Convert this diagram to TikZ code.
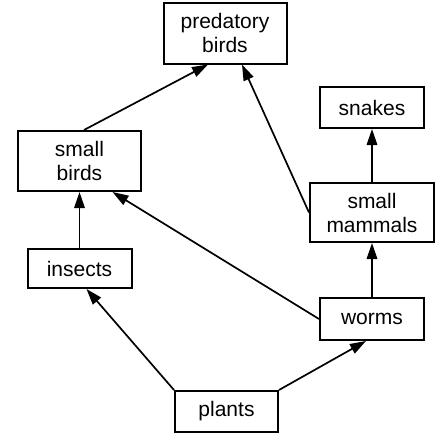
\documentclass[tikz,border=0pt]{standalone}
\usepackage{fontspec}
\setmainfont{Liberation Sans}
\usepackage{tikz}
\usetikzlibrary{positioning,arrows.meta}
\tikzset{box/.style={
        draw, 
        rectangle, 
        minimum height=41pt, 
        minimum width=104pt,  
        line width=2pt,
        align=center,
        font=\fontsize{21}{24}\selectfont } }
\tikzset{bigbox/.style={
        box, 
        minimum height=60pt, 
        minimum width=123pt } }
\tikzset{feeds/.style={
        -{Triangle[length=16pt,width=10.5pt]}, 
        line width=1.7pt } }

\begin{document}
\begin{tikzpicture}[x=1pt,y=-1pt]
\useasboundingbox (0,0) rectangle (448,447);

\node[bigbox, minimum height=61pt] (pbirds) at (225,33) {predatory\\birds}; 
\node[bigbox] (sbirds) at (79.5,161) {small\\birds}; 
\node[box, minimum height=39pt] (insects) [below = 56pt of sbirds] {insects}; 

\node[bigbox, minimum width=124pt, minimum height=59pt] (mammals) at (372,212.5) {small\\mammals}; 
\node[box] (snakes) [above = 53pt of mammals] {snakes}; 
\node[box, minimum height=42pt] (worms) [below = 54pt of mammals] {worms}; 

\node[box, minimum width=103pt] (plants) at (226.5,411.5) {plants}; 

\path[feeds]      
(plants.north west) edge ([xshift=7pt]insects.south) 
(plants.north east) edge ([xshift=-6pt]worms.south) 

(insects) edge (sbirds) 
(worms.west) edge ([xshift=33pt]sbirds.south) 

(worms) edge (mammals) 
(mammals) edge (snakes) 

(mammals.west) edge ([xshift=17pt]pbirds.south) 
([xshift=4.5pt]sbirds.north) edge ([xshift=-17pt]pbirds.south) 
;    

\end{tikzpicture}
\end{document}
